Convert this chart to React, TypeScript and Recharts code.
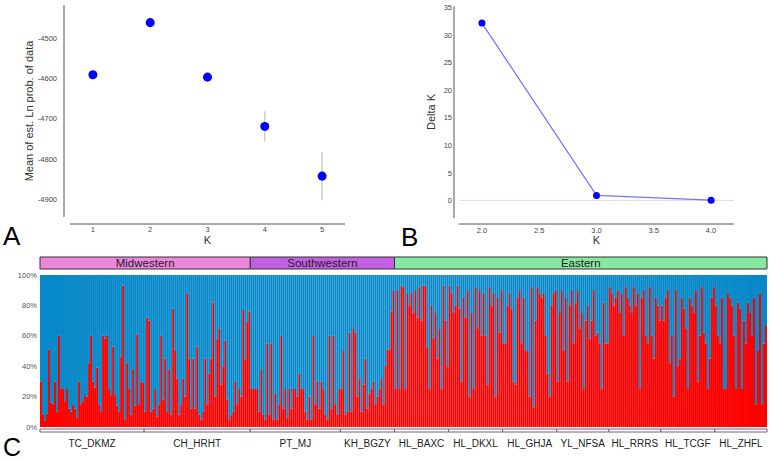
import React from 'react';
import {
  ScatterChart, Scatter, XAxis, YAxis, ZAxis, ErrorBar,
  LineChart, Line, ReferenceLine, BarChart, Bar, LabelList,
} from 'recharts';

// ---------- Panel A: mean Ln prob per K ----------
const kValues = [1, 2, 3, 4, 5];
const lnProbMeans = [-4590, -4460, -4596, -4719, -4843];
const lnProbSd = [3, 3, 10, 38, 60];
const lnProbTicks = [-4900, -4800, -4700, -4600, -4500];

// ---------- Panel B: Delta K ----------
const deltaKs = [2, 3, 4];
const deltaKValues = [32.2, 0.9, 0.03];
const deltaKXTicks = [2.0, 2.5, 3.0, 3.5, 4.0];
const deltaKYTicks = [0, 5, 10, 15, 20, 25, 30, 35];

// ---------- Panel C: STRUCTURE K=2 membership (red cluster %, per individual) ----------
const regions = ['Midwestern', 'Southwestern', 'Eastern'];
const regionColors = ['#ee86dc', '#c35fe3', '#87e8a1'];
const populations = ['TC_DKMZ', 'CH_HRHT', 'PT_MJ', 'KH_BGZY', 'HL_BAXC', 'HL_DKXL', 'HL_GHJA', 'YL_NFSA', 'HL_RRRS', 'HL_TCGF', 'HL_ZHFL'];
const populationRegion = ['Midwestern', 'Midwestern', 'Southwestern', 'Southwestern', 'Eastern', 'Eastern', 'Eastern', 'Eastern', 'Eastern', 'Eastern', 'Eastern'];

const tcDkmz = [30, 8, 4, 9, 51, 16, 15, 30, 10, 60, 25, 25, 17, 25, 12, 10, 15, 12, 6, 30, 15, 17, 21, 20, 42, 60, 30, 26, 39, 15, 10, 60, 58, 60, 25, 21, 53, 21, 14, 10, 46, 93, 5, 42, 25, 8, 38, 14, 61, 15, 30, 29];
const chHrht = [10, 72, 70, 10, 12, 25, 7, 15, 60, 18, 45, 10, 38, 8, 78, 50, 32, 8, 15, 32, 20, 88, 45, 12, 45, 12, 53, 8, 5, 10, 45, 15, 35, 45, 82, 20, 58, 65, 28, 40, 57, 18, 5, 8, 10, 30, 15, 25, 20, 77, 44, 69, 76];
const ptMj = [25, 25, 25, 25, 10, 38, 8, 5, 55, 8, 55, 5, 22, 5, 15, 60, 12, 25, 6, 25, 12, 25, 25, 20, 35, 25, 25, 10, 5, 20, 5, 60, 15, 30, 12, 30, 25, 8, 5, 60, 12, 60, 15, 8, 25];
const khBgzy = [25, 50, 8, 10, 62, 10, 65, 62, 20, 32, 10, 28, 45, 12, 22, 25, 30, 15, 20, 25, 32, 15, 40, 51, 51, 76, 90];
const hlBaxc = [25, 90, 25, 93, 92, 25, 88, 80, 88, 75, 90, 72, 92, 70, 93, 93, 52, 25, 80, 58, 75, 45, 65, 25, 93, 70, 40];
const hlDkxl = [93, 88, 75, 80, 93, 78, 30, 85, 72, 90, 20, 75, 25, 92, 65, 90, 60, 88, 60, 28, 92, 80, 88, 20, 85, 62, 90];
const hlGhja = [55, 55, 80, 88, 78, 30, 28, 85, 90, 55, 85, 50, 50, 20, 92, 13, 70, 92, 88, 85, 88, 60, 35, 20, 80, 88, 90];
const ylNfsa = [30, 75, 90, 50, 85, 30, 80, 90, 55, 82, 90, 65, 75, 25, 70, 80, 58, 70, 90, 60, 62, 55, 25, 82, 55, 55];
const hlRrrs = [92, 88, 80, 85, 90, 75, 88, 60, 92, 85, 80, 75, 92, 80, 88, 25, 85, 90, 60, 55, 92, 60, 45, 85, 80, 70];
const hlTcgf = [80, 70, 85, 90, 42, 60, 20, 90, 40, 45, 85, 78, 65, 25, 85, 80, 75, 90, 30, 60, 92, 62, 55, 25, 45, 85, 92];
const hlZhfl = [80, 60, 55, 85, 25, 25, 88, 85, 80, 60, 25, 82, 78, 25, 70, 55, 82, 75, 60, 85, 15, 50, 88, 15, 55, 67];
const percentTicks = [0, 0.2, 0.4, 0.6, 0.8, 1];

const popValues = [tcDkmz, chHrht, ptMj, khBgzy, hlBaxc, hlDkxl, hlGhja, ylNfsa, hlRrrs, hlTcgf, hlZhfl];

// ---------- derived tables ----------
const lnProbData = kValues.map((k, i) => ({ k, mean: lnProbMeans[i], sd: lnProbSd[i] }));
const deltaKData = deltaKs.map((k, i) => ({ k, dk: deltaKValues[i] }));
const individuals = popValues.flatMap((arr, p) =>
  arr.map((v, i) => ({ id: `${populations[p]}_${i + 1}`, red: v / 100, blue: 1 - v / 100 }))
);
const totalN = individuals.length;
const regionRow: Record<string, any> = { name: 'regions' };
regions.forEach((r) => {
  regionRow[r] = popValues.reduce((s, arr, p) => s + (populationRegion[p] === r ? arr.length : 0), 0);
});
const popRow: Record<string, any> = { name: 'pops' };
populations.forEach((p, i) => { popRow[p] = popValues[i].length; });
const popBoundaries = popValues.reduce((acc: number[], arr) => [...acc, acc[acc.length - 1] + arr.length], [0]);

const FONT = '"Liberation Sans", Arial, Helvetica, sans-serif';
const tickStyle = { fontSize: 7.5, fill: '#444' };

export default function App() {
  return (
    <div style={{ position: 'absolute', left: 0, top: 0, width: 772, height: 461, background: '#fff', fontFamily: FONT, overflow: 'hidden' }}>
      {/* Panel A */}
      <div style={{ position: 'absolute', left: -12, top: 0 }}>
        <ScatterChart width={357} height={250} margin={{ top: 5, right: 0, bottom: 6, left: 0 }}>
          <XAxis
            type="number" dataKey="k" domain={[0.6, 5.4]} ticks={kValues} height={27}
            tickLine={false} tickSize={6} tickMargin={4} tick={tickStyle}
            axisLine={{ stroke: '#555', transform: 'translate(0,7)' }}
            label={{ value: 'K', position: 'insideBottom', offset: 0, fontSize: 11, fill: '#333' }}
          />
          <YAxis
            type="number" dataKey="mean" domain={[-4945, -4416]} ticks={lnProbTicks} width={82}
            tickLine={false} tickSize={6} tickMargin={7} tick={tickStyle}
            axisLine={{ stroke: '#555', transform: 'translate(-6,0)' }}
            label={{ value: 'Mean of est. Ln prob. of data', angle: -90, position: 'center', fontSize: 11, fill: '#333' }}
          />
          <ZAxis range={[36, 36]} />
          <Scatter data={lnProbData} fill="#0000ff" shape="circle" isAnimationActive={false}>
            <ErrorBar dataKey="sd" direction="y" width={0} stroke="#cfcfcf" strokeWidth={1.5} />
          </Scatter>
        </ScatterChart>
      </div>

      {/* Panel B */}
      <div style={{ position: 'absolute', left: 404, top: 0 }}>
        <LineChart width={330} height={250} data={deltaKData} margin={{ top: 6, right: 0, bottom: 6, left: 0 }}>
          <XAxis
            type="number" dataKey="k" domain={[1.8, 4.2]} ticks={deltaKXTicks} height={26}
            tickFormatter={(v: number) => v.toFixed(1)}
            tickLine={false} tickSize={6} tickMargin={4} tick={tickStyle}
            axisLine={{ stroke: '#555', transform: 'translate(0,6)' }}
            label={{ value: 'K', position: 'insideBottom', offset: 0, fontSize: 11, fill: '#333' }}
          />
          <YAxis
            type="number" domain={[-3.2, 35.3]} ticks={deltaKYTicks} width={55}
            tickLine={false} tickSize={6} tickMargin={1} tick={tickStyle}
            axisLine={{ stroke: '#555', transform: 'translate(-5,0)' }}
            label={{ value: 'Delta K', angle: -90, position: 'center', fontSize: 11, fill: '#333' }}
          />
          <ReferenceLine y={0} stroke="#dddddd" strokeWidth={1} />
          <Line
            type="linear" dataKey="dk" stroke="#7474ff" strokeWidth={1.2}
            dot={{ r: 3.5, fill: '#0000ff', stroke: '#0000ff', strokeWidth: 0 }}
            isAnimationActive={false}
          />
        </LineChart>
      </div>

      {/* Panel C: region header */}
      <div style={{ position: 'absolute', left: 39, top: 256 }}>
        <BarChart width={729} height={14} layout="vertical" data={[regionRow]} barCategoryGap={0}
          margin={{ top: 1, right: 1, bottom: 1, left: 1 }}>
          <XAxis type="number" domain={[0, totalN]} hide />
          <YAxis type="category" dataKey="name" hide />
          {regions.map((r, i) => (
            <Bar key={r} dataKey={r} stackId="h" fill={regionColors[i]} stroke="#333" strokeWidth={1} isAnimationActive={false}>
              <LabelList dataKey={r} position="center" formatter={() => r} fontSize={11.5} fill="#222" />
            </Bar>
          ))}
        </BarChart>
      </div>

      {/* Panel C: membership bars */}
      <div style={{ position: 'absolute', left: 0, top: 270 }}>
        <BarChart width={767} height={163} data={individuals} barCategoryGap={0} barGap={0}
          margin={{ top: 5, right: 0, bottom: 6, left: 0 }}>
          <XAxis dataKey="id" hide />
          <YAxis
            type="number" domain={[0, 1]} ticks={percentTicks} width={40}
            tickFormatter={(v: number) => `${Math.round(v * 100)}%`}
            tickLine={false} axisLine={false} tickSize={0} tickMargin={3}
            tick={{ fontSize: 7.5, fill: '#555' }}
          />
          <Bar dataKey="red" stackId="m" fill="#ff0000" isAnimationActive={false} />
          <Bar dataKey="blue" stackId="m" fill="#0788c8" isAnimationActive={false} />
        </BarChart>
      </div>

      {/* Panel C: population bracket + labels */}
      <div style={{ position: 'absolute', left: 39, top: 427 }}>
        <BarChart width={729} height={28} layout="vertical" data={[popRow]} barSize={3}
          margin={{ top: 1, right: 1, bottom: 19, left: 1 }}>
          <XAxis type="number" domain={[0, totalN]} ticks={popBoundaries} height={4}
            tick={false} tickSize={3} tickLine={{ stroke: '#4a3a4a' }} axisLine={false} />
          <YAxis type="category" dataKey="name" hide />
          {populations.map((p) => (
            <Bar key={p} dataKey={p} stackId="p" fill="#ffffff" stroke="#7a5a7a" strokeWidth={1} isAnimationActive={false}>
              <LabelList dataKey={p} position="bottom" offset={8} formatter={() => p} fontSize={10} fill="#222" />
            </Bar>
          ))}
        </BarChart>
      </div>

      {/* panel letters */}
      <svg width={772} height={461} style={{ position: 'absolute', left: 0, top: 0, pointerEvents: 'none' }}>
        <text x={3} y={245} fontSize={26} fill="#000" fontFamily={FONT}>A</text>
        <text x={401} y={246} fontSize={26} fill="#000" fontFamily={FONT}>B</text>
        <text x={3} y={456} fontSize={25} fill="#000" fontFamily={FONT}>C</text>
      </svg>
    </div>
  );
}
